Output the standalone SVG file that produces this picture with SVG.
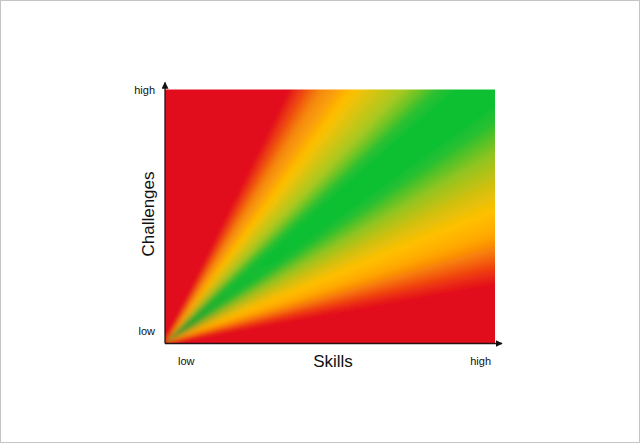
<svg xmlns="http://www.w3.org/2000/svg" xmlns:xlink="http://www.w3.org/1999/xlink" width="640" height="443" viewBox="0 0 640 443">
<style>
.lbl{font-family:"Liberation Sans",Arial,sans-serif;font-size:11px;fill:#111}
.ttl{font-family:"Liberation Sans",Arial,sans-serif;font-size:17px;fill:#111}
.axis{stroke:#2a1214;stroke-width:1.3;fill:none}
</style>
<defs>
<clipPath id="plotClip"><rect x="165" y="89.5" width="330" height="254"/></clipPath>
<filter id="soft" x="-10%" y="-10%" width="120%" height="120%"><feGaussianBlur stdDeviation="2"/></filter>
<path id="w" d="M0,0 L620,-6.5 L620,6.5 Z"/>
<marker id="arr" viewBox="0 0 10 10" refX="9" refY="5" markerWidth="7" markerHeight="7" markerUnits="userSpaceOnUse" orient="auto"><path d="M0,0 L10,5 L0,10 Z" fill="#111"/></marker>
</defs>
<rect x="0.5" y="0.5" width="639" height="442" fill="#fff" stroke="#c4c4c4" stroke-width="1"/>
<g id="plot" clip-path="url(#plotClip)">
<g filter="url(#soft)">
<rect x="100" y="40" width="460" height="360" fill="#E20A1A"/>
<g transform="translate(165,343)">
<use xlink:href="#w" transform="rotate(-10)" fill="#E20A1A"/>
<use xlink:href="#w" transform="rotate(-11)" fill="#E71C17"/>
<use xlink:href="#w" transform="rotate(-12)" fill="#EB2E13"/>
<use xlink:href="#w" transform="rotate(-13)" fill="#F04010"/>
<use xlink:href="#w" transform="rotate(-14)" fill="#F3560D"/>
<use xlink:href="#w" transform="rotate(-15)" fill="#F56C0A"/>
<use xlink:href="#w" transform="rotate(-16)" fill="#F88107"/>
<use xlink:href="#w" transform="rotate(-17)" fill="#FB9104"/>
<use xlink:href="#w" transform="rotate(-18)" fill="#FEA201"/>
<use xlink:href="#w" transform="rotate(-19)" fill="#FFAC00"/>
<use xlink:href="#w" transform="rotate(-20)" fill="#FFB300"/>
<use xlink:href="#w" transform="rotate(-21)" fill="#FFB900"/>
<use xlink:href="#w" transform="rotate(-22)" fill="#FFC000"/>
<use xlink:href="#w" transform="rotate(-23)" fill="#F3C004"/>
<use xlink:href="#w" transform="rotate(-24)" fill="#E8C008"/>
<use xlink:href="#w" transform="rotate(-25)" fill="#DCC00C"/>
<use xlink:href="#w" transform="rotate(-26)" fill="#D0C010"/>
<use xlink:href="#w" transform="rotate(-27)" fill="#C0C114"/>
<use xlink:href="#w" transform="rotate(-28)" fill="#B0C218"/>
<use xlink:href="#w" transform="rotate(-29)" fill="#A0C31C"/>
<use xlink:href="#w" transform="rotate(-30)" fill="#90C420"/>
<use xlink:href="#w" transform="rotate(-31)" fill="#76C324"/>
<use xlink:href="#w" transform="rotate(-32)" fill="#5CC228"/>
<use xlink:href="#w" transform="rotate(-33)" fill="#42C12C"/>
<use xlink:href="#w" transform="rotate(-34)" fill="#28C030"/>
<use xlink:href="#w" transform="rotate(-35)" fill="#1DC031"/>
<use xlink:href="#w" transform="rotate(-36)" fill="#11C032"/>
<use xlink:href="#w" transform="rotate(-37)" fill="#11C032"/>
<use xlink:href="#w" transform="rotate(-38)" fill="#11C032"/>
<use xlink:href="#w" transform="rotate(-39)" fill="#11C032"/>
<use xlink:href="#w" transform="rotate(-40)" fill="#11C032"/>
<use xlink:href="#w" transform="rotate(-41)" fill="#11C032"/>
<use xlink:href="#w" transform="rotate(-42)" fill="#1FC031"/>
<use xlink:href="#w" transform="rotate(-43)" fill="#2CC030"/>
<use xlink:href="#w" transform="rotate(-44)" fill="#4EC22A"/>
<use xlink:href="#w" transform="rotate(-45)" fill="#70C425"/>
<use xlink:href="#w" transform="rotate(-46)" fill="#8CC622"/>
<use xlink:href="#w" transform="rotate(-47)" fill="#A8C820"/>
<use xlink:href="#w" transform="rotate(-48)" fill="#B6C71B"/>
<use xlink:href="#w" transform="rotate(-49)" fill="#C3C617"/>
<use xlink:href="#w" transform="rotate(-50)" fill="#D1C512"/>
<use xlink:href="#w" transform="rotate(-51)" fill="#DFC30D"/>
<use xlink:href="#w" transform="rotate(-52)" fill="#ECC208"/>
<use xlink:href="#w" transform="rotate(-53)" fill="#F8C103"/>
<use xlink:href="#w" transform="rotate(-54)" fill="#FEBA02"/>
<use xlink:href="#w" transform="rotate(-55)" fill="#FCAD05"/>
<use xlink:href="#w" transform="rotate(-56)" fill="#FAA008"/>
<use xlink:href="#w" transform="rotate(-57)" fill="#F8970B"/>
<use xlink:href="#w" transform="rotate(-58)" fill="#F68E0E"/>
<use xlink:href="#w" transform="rotate(-59)" fill="#F47E10"/>
<use xlink:href="#w" transform="rotate(-60)" fill="#F26710"/>
<use xlink:href="#w" transform="rotate(-61)" fill="#F05010"/>
<use xlink:href="#w" transform="rotate(-62)" fill="#EB3B14"/>
<use xlink:href="#w" transform="rotate(-63)" fill="#E72518"/>
<use xlink:href="#w" transform="rotate(-64)" fill="#E2101C"/>
<use xlink:href="#w" transform="rotate(-65)" fill="#E20A1A"/>
</g>
</g>
</g>
<g id="connectors">
<line class="axis" x1="165" y1="343.5" x2="165" y2="82.5" marker-end="url(#arr)"/>
<line class="axis" x1="165" y1="343.5" x2="502" y2="343.5" marker-end="url(#arr)"/>
</g>
<g id="labels">
<text class="lbl" x="155" y="94" text-anchor="end">high</text>
<text class="lbl" x="155" y="334.5" text-anchor="end">low</text>
<text class="lbl" x="178" y="365">low</text>
<text class="lbl" x="491" y="365" text-anchor="end">high</text>
<text class="ttl" x="333" y="367" text-anchor="middle">Skills</text>
<text class="ttl" transform="translate(154,214) rotate(-90)" text-anchor="middle">Challenges</text>
</g>
</svg>
